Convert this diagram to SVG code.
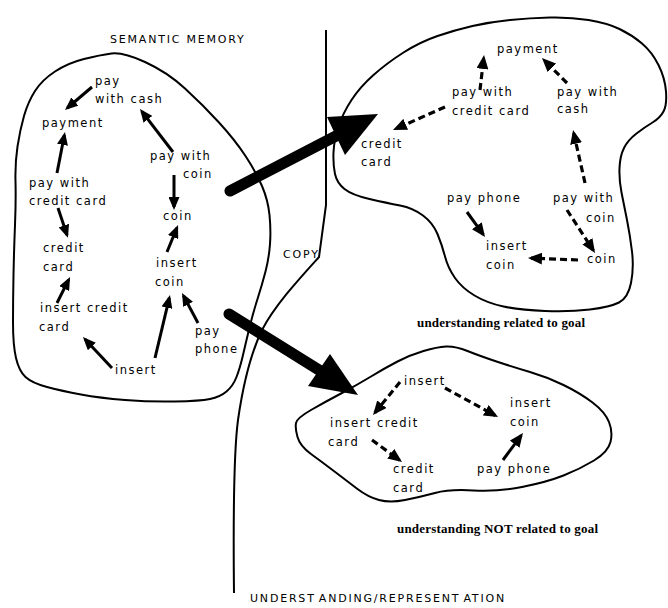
<svg xmlns="http://www.w3.org/2000/svg" width="668" height="608" viewBox="0 0 668 608">
<style>
.t{font-family:"DejaVu Sans",sans-serif;font-size:11.5px;letter-spacing:1.5px;fill:#000}
.h{font-family:"DejaVu Sans",sans-serif;font-size:11px;letter-spacing:1.8px;fill:#000}
.c{font-family:"Liberation Serif",serif;font-size:13px;font-weight:bold;fill:#000}
.blob{fill:none;stroke:#000;stroke-width:2;stroke-linejoin:round}
.s{fill:none;stroke:#000;stroke-width:3}
.d{fill:none;stroke:#000;stroke-width:3.2;stroke-dasharray:7 4}
</style>
<defs>
<marker id="ah" markerUnits="userSpaceOnUse" markerWidth="13" markerHeight="11" viewBox="0 0 13 11" refX="10" refY="5.5" orient="auto"><path d="M0,0 L13,5.5 L0,11 Z" fill="#000"/></marker>
<marker id="ahd" markerUnits="userSpaceOnUse" markerWidth="14" markerHeight="12" viewBox="0 0 14 12" refX="11" refY="6" orient="auto"><path d="M0,0 L14,6 L0,12 Z" fill="#000"/></marker>
</defs>
<rect width="668" height="608" fill="#fff"/>

<g id="regions">
<path class="blob" d="M 145,62 Q 167,72 185,88.5 Q 203,105 219,122.5 Q 235,140 245.5,156 Q 256,172 262,186 Q 268,200 269.5,215 Q 271,230 270,244 Q 269,258 265.5,271.5 Q 262,285 257.5,299 Q 253,313 249.5,327.5 Q 246,342 243,355 Q 240,368 236.5,377 Q 233,386 226.5,391.5 Q 220,397 210,399 Q 200,401 175,401.5 Q 150,402 125,400 Q 100,398 81,394.5 Q 62,391 47,387 Q 32,383 25.5,377 Q 19,371 16,358 Q 13,345 13,322.5 Q 13,300 13.5,275 Q 14,250 15,225 Q 16,200 15.5,181.5 Q 15,163 17.5,146.5 Q 20,130 24,116 Q 28,102 35,91 Q 42,80 55,71.5 Q 68,63 84,59 Q 100,55 111.5,53.5 Q 123,52 145,62 Z"/>
<path class="blob" d="M 351.5,100 Q 360,87 373.5,75 Q 387,63 403.5,52.5 Q 420,42 437.5,36 Q 455,30 472.5,26 Q 490,22 510,20 Q 530,18 550,17.5 Q 570,17 588.5,20 Q 607,23 619.5,29 Q 632,35 642,43.5 Q 652,52 658.5,65 Q 665,78 666,91.5 Q 667,105 663.5,111.5 Q 660,118 652.5,122.5 Q 645,127 636.5,133.5 Q 628,140 624,148 Q 620,156 619.5,168 Q 619,180 621.5,192.5 Q 624,205 627,220 Q 630,235 632,251.5 Q 634,268 631,283 Q 628,298 619,302.5 Q 610,307 590,309.5 Q 570,312 545,311 Q 520,310 503.5,306.5 Q 487,303 474.5,295.5 Q 462,288 455,278 Q 448,268 445,256.5 Q 442,245 437.5,234 Q 433,223 423,215.5 Q 413,208 400,205.5 Q 387,203 369.5,199 Q 352,195 344.5,189 Q 337,183 335,174 Q 333,165 333.5,152.5 Q 334,140 338.5,126.5 Q 343,113 351.5,100 Z"/>
<path class="blob" d="M 311,410 Q 325,402 341,393.5 Q 357,385 371,376.5 Q 385,368 397.5,361.5 Q 410,355 423.5,351 Q 437,347 446,346.5 Q 455,346 467.5,351 Q 480,356 496.5,361.5 Q 513,367 530,372 Q 547,377 563.5,385 Q 580,393 592.5,402.5 Q 605,412 609,422 Q 613,432 610.5,442 Q 608,452 594,460.5 Q 580,469 563.5,475.5 Q 547,482 522,487 Q 497,492 473.5,490.5 Q 450,489 435,493 Q 420,497 405,500 Q 390,503 379,500 Q 368,497 357.5,489 Q 347,481 334.5,471.5 Q 322,462 311,454 Q 300,446 297.5,437 Q 295,428 296,423 Q 297,418 311,410 Z"/>
<path class="blob" d="M 326,30 L 326,205 L 319,257 C 300,278 275,305 262,330 C 250,355 243,385 238,420 C 234,450 233,500 234,593"/>
</g>

<g id="labels">
<text class="h" x="110" y="43">SEMANTIC MEMORY</text>
<text class="h" x="283" y="258">COPY</text>
<text class="h" x="250" y="602">UNDERST<tspan dx="4">A</tspan>NDING/REPRESENT<tspan dx="4">A</tspan>TION</text>
<text class="c" x="417" y="327" textLength="168" lengthAdjust="spacing">understanding related to goal</text>
<text class="c" x="397" y="533" textLength="201" lengthAdjust="spacing">understanding NOT related to goal</text>
</g>

<g id="connectors">
<line x1="230" y1="191" x2="336" y2="136" stroke="#000" stroke-width="11" stroke-linecap="round"/>
<polygon points="327,117 378,114 345,155" fill="#000"/>
<line x1="229" y1="314" x2="319" y2="370" stroke="#000" stroke-width="11" stroke-linecap="round"/>
<polygon points="330,354 358,395 308,386" fill="#000"/>

<path class="s" marker-end="url(#ah)" d="M92,87 L67.3,108"/>
<path class="s" marker-end="url(#ah)" d="M173,152 L141.8,111.4"/>
<path class="s" marker-end="url(#ah)" d="M57,173 L64.4,135"/>
<path class="s" marker-end="url(#ah)" d="M174,175 L174,207"/>
<path class="s" marker-end="url(#ah)" d="M58,208 L67,235"/>
<path class="s" marker-end="url(#ah)" d="M167,252 L176.9,227.8"/>
<path class="s" marker-end="url(#ah)" d="M57,303 L68.7,279.7"/>
<path class="s" marker-end="url(#ah)" d="M112,368 L85,339.2"/>
<path class="s" marker-end="url(#ah)" d="M155,358 L169.3,297.9"/>
<path class="s" marker-end="url(#ah)" d="M198,323 L183.4,295.6"/>

<path class="d" marker-end="url(#ahd)" d="M480,90 L483.7,58"/>
<path class="d" marker-end="url(#ahd)" d="M567,83 L544.1,60.1"/>
<path class="d" marker-end="url(#ahd)" d="M445,107 L395.7,128.8"/>
<path class="d" marker-end="url(#ahd)" d="M585,183 L573.7,132.9"/>
<path class="d" marker-end="url(#ahd)" d="M567,210 L593.4,250.5"/>
<path class="d" marker-end="url(#ahd)" d="M578,260 L531,258.1"/>
<path class="s" marker-end="url(#ahd)" d="M467,212 L483.3,234.6"/>

<path class="d" marker-end="url(#ahd)" d="M400,382 L374.9,412.7"/>
<path class="d" marker-end="url(#ahd)" d="M445,388 L495.4,415.6"/>
<path class="d" marker-end="url(#ahd)" d="M372,440 L399.6,460.2"/>
<path class="s" marker-end="url(#ahd)" d="M503,460 L521.2,435.4"/>
</g>

<g id="sm-pay-with-cash"><text class="t"><tspan x="95" y="85">pay</tspan><tspan x="95" y="103">with cash</tspan></text></g>
<g id="sm-payment"><text class="t" x="42" y="127">payment</text></g>
<g id="sm-pay-with-coin"><text class="t"><tspan x="150" y="160">pay with</tspan><tspan x="183" y="178">coin</tspan></text></g>
<g id="sm-pay-with-credit-card"><text class="t"><tspan x="29" y="187">pay with</tspan><tspan x="29" y="205">credit card</tspan></text></g>
<g id="sm-coin"><text class="t" x="163" y="220">coin</text></g>
<g id="sm-credit-card"><text class="t"><tspan x="43" y="252">credit</tspan><tspan x="43" y="271">card</tspan></text></g>
<g id="sm-insert-coin"><text class="t"><tspan x="156" y="267">insert</tspan><tspan x="155" y="286">coin</tspan></text></g>
<g id="sm-insert-credit-card"><text class="t"><tspan x="40" y="312">insert credit</tspan><tspan x="39" y="331">card</tspan></text></g>
<g id="sm-pay-phone"><text class="t"><tspan x="195" y="335">pay</tspan><tspan x="195" y="353">phone</tspan></text></g>
<g id="sm-insert"><text class="t" x="115" y="374">insert</text></g>

<g id="g-payment"><text class="t" x="497" y="53">payment</text></g>
<g id="g-pay-with-credit-card"><text class="t"><tspan x="452" y="96">pay with</tspan><tspan x="452" y="115">credit card</tspan></text></g>
<g id="g-pay-with-cash"><text class="t"><tspan x="557" y="96">pay with</tspan><tspan x="557" y="113">cash</tspan></text></g>
<g id="g-credit-card"><text class="t"><tspan x="361" y="148">credit</tspan><tspan x="361" y="166">card</tspan></text></g>
<g id="g-pay-phone"><text class="t" x="447" y="202">pay phone</text></g>
<g id="g-pay-with-coin"><text class="t"><tspan x="553" y="202">pay with</tspan><tspan x="586" y="222">coin</tspan></text></g>
<g id="g-insert-coin"><text class="t"><tspan x="486" y="250">insert</tspan><tspan x="486" y="269">coin</tspan></text></g>
<g id="g-coin"><text class="t" x="587" y="263">coin</text></g>

<g id="n-insert"><text class="t" x="404" y="385">insert</text></g>
<g id="n-insert-coin"><text class="t"><tspan x="510" y="407">insert</tspan><tspan x="510" y="426">coin</tspan></text></g>
<g id="n-insert-credit-card"><text class="t"><tspan x="330" y="427">insert credit</tspan><tspan x="328" y="446">card</tspan></text></g>
<g id="n-credit-card"><text class="t"><tspan x="393" y="473">credit</tspan><tspan x="393" y="492">card</tspan></text></g>
<g id="n-pay-phone"><text class="t" x="477" y="473">pay phone</text></g>
</svg>
